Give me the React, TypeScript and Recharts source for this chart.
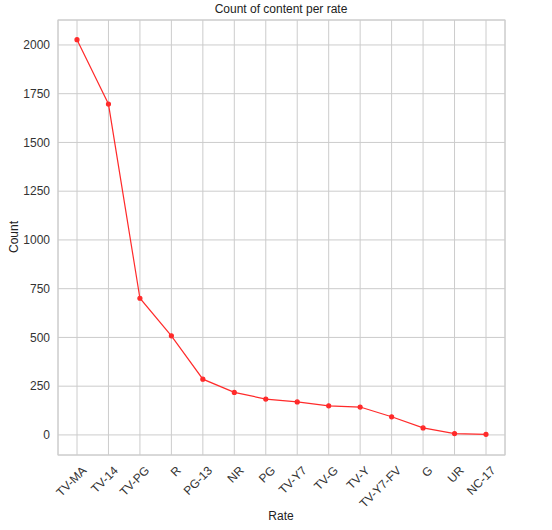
import React from 'react';
import { LineChart, Line, XAxis, YAxis, CartesianGrid } from 'recharts';

const rates = ['TV-MA', 'TV-14', 'TV-PG', 'R', 'PG-13', 'NR', 'PG', 'TV-Y7', 'TV-G', 'TV-Y', 'TV-Y7-FV', 'G', 'UR', 'NC-17'];
const counts = [2027, 1697, 701, 508, 286, 218, 184, 169, 149, 143, 93, 36, 7, 3];
const yTicks = [0, 250, 500, 750, 1000, 1250, 1500, 1750, 2000];

const data = rates.map((r, i) => ({ rate: r, count: counts[i] }));

const RotTick = (props: any) => {
  const { x, y, payload } = props;
  return (
    <text x={x + 4} y={y + 2} transform={`rotate(-45, ${x + 4}, ${y + 2})`} textAnchor="end" dominantBaseline="hanging" fontSize={12} fill="#333">
      {payload.value}
    </text>
  );
};

export default function App() {
  return (
    <div style={{ position: 'absolute', left: 0, top: 0, width: 552, height: 530, background: '#fff', fontFamily: 'Liberation Sans, Arial, sans-serif' }}>
      <LineChart width={552} height={530} data={data} margin={{ top: 20, right: 47, bottom: 15, left: 8 }}>
        <text x={281} y={13} textAnchor="middle" fontSize={12} fill="#222">Count of content per rate</text>
        <text x={281} y={520} textAnchor="middle" fontSize={12} fill="#222">Rate</text>
        <text x={18} y={237} textAnchor="middle" fontSize={12} fill="#222" transform="rotate(-90, 18, 237)">Count</text>
        <rect x={58} y={20} width={447} height={435} fill="none" stroke="#cccccc" />
        <CartesianGrid stroke="#cccccc" />
        <XAxis dataKey="rate" interval={0} padding={{ left: 19, right: 19 }} axisLine={false} tickLine={false} tick={<RotTick />} height={60} />
        <YAxis domain={[-103, 2128]} ticks={yTicks} width={50} axisLine={false} tickLine={false} tick={{ fontSize: 12, fill: '#333' }} />
        <Line dataKey="count" stroke="#ff2a2a" strokeWidth={1.2} dot={{ r: 2, fill: '#ff2a2a', stroke: '#ff2a2a' }} isAnimationActive={false} />
      </LineChart>
    </div>
  );
}
